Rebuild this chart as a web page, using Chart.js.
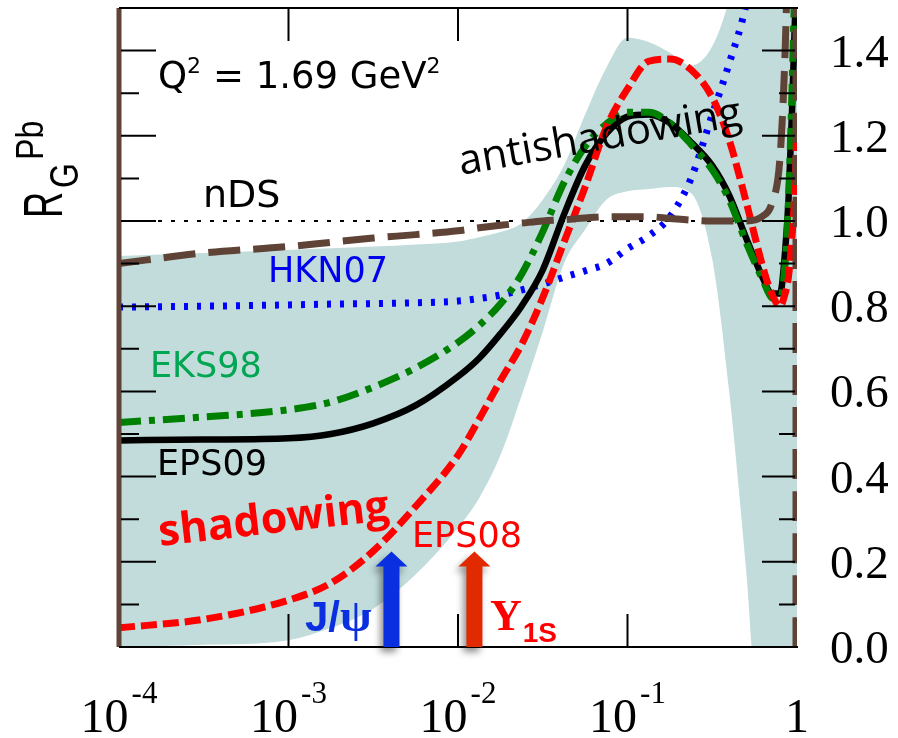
<!DOCTYPE html>
<html>
<head>
<meta charset="utf-8">
<script src="https://cdn.jsdelivr.net/npm/chart.js@4.4.1/dist/chart.umd.min.js"></script>
<style>
  html, body { margin: 0; padding: 0; background: #fff; }
</style>
</head>
<body>
<canvas id="rgChart" width="898" height="738"></canvas>
<script>
// x grid as powers of ten (x = 10^e)
const xExp = [-4, -3.5, -3, -2.75, -2.5, -2.25, -2, -1.875, -1.75, -1.625, -1.5, -1.375, -1.25, -1.125, -1,
  -0.875, -0.75, -0.625, -0.5, -0.4, -0.3, -0.2, -0.15, -0.1, -0.07, -0.05, -0.03, -0.01, 0];

const eps09 = [0.485, 0.487, 0.49, 0.50, 0.525, 0.567, 0.635, 0.678, 0.735, 0.80, 0.885, 1.015, 1.13, 1.205, 1.245,
  1.25, 1.23, 1.185, 1.13, 1.06, 0.96, 0.865, 0.83, 0.83, 0.93, 1.05, 1.25, 1.5, 1.65];
const eks98 = [0.527, 0.54, 0.557, 0.575, 0.61, 0.655, 0.715, 0.755, 0.805, 0.875, 0.975, 1.09, 1.175, 1.228, 1.255,
  1.255, 1.23, 1.18, 1.12, 1.05, 0.95, 0.86, 0.82, 0.815, 0.9, 1.05, 1.3, 1.6, 1.7];
const hkn07 = [0.798, 0.80, 0.803, 0.805, 0.806, 0.808, 0.812, 0.818, 0.826, 0.838, 0.852, 0.868, 0.883, 0.90, 0.935,
  0.965, 1.01, 1.10, 1.25, 1.37, 1.51, 1.75, null, null, null, null, null, null, null];
const eps08 = [0.045, 0.065, 0.11, 0.15, 0.225, 0.33, 0.45, 0.535, 0.625, 0.71, 0.82, 0.95, 1.08, 1.22, 1.31,
  1.375, 1.38, 1.355, 1.29, 1.19, 1.045, 0.89, 0.83, 0.80, 0.83, 0.87, 0.96, 1.1, 1.25];
const nds = [0.90, 0.925, 0.94, 0.95, 0.96, 0.968, 0.977, 0.984, 0.99, 0.995, 1.0, 1.003, 1.007, 1.01, 1.01,
  1.01, 1.006, 1.002, 1.0, 1.0, 1.0, 1.012, 1.04, 1.15, 1.4, 1.7, null, null, null];
// EPS09 uncertainty band
const bandUpper = [0.918, 0.925, 0.932, 0.936, 0.94, 0.945, 0.952, 0.962, 0.974, 0.995, 1.05, 1.13, 1.25, 1.36, 1.43,
  1.42, 1.395, 1.365, 1.41, 1.52, 1.7, 1.8, 1.8, 1.8, 1.8, 1.8, 1.8, 1.8, 1.8];
const bandLower = [0.0, 0.005, 0.016, 0.045, 0.09, 0.17, 0.28, 0.35, 0.45, 0.59, 0.74, 0.90, 0.98, 1.05, 1.07,
  1.075, 1.08, 1.065, 0.91, 0.6, 0.18, -0.3, -0.3, -0.3, -0.3, -0.3, -0.3, -0.3, -0.3];

const unityX = [1e-4, 1];
const unityY = [1, 1];
const edgeY = [0, 1.5];

const xTicks = [1e-4, 1e-3, 1e-2, 1e-1, 1];
const xTickExp = ['-4', '-3', '-2', '-1', ''];
const yTicks = [0, 0.2, 0.4, 0.6, 0.8, 1.0, 1.2, 1.4];
const yMinor = [0.1, 0.3, 0.5, 0.7, 0.9, 1.1, 1.3, 1.5];
const yTickLabels = ['0.0', '0.2', '0.4', '0.6', '0.8', '1.0', '1.2', '1.4'];

// J/psi and Upsilon arrows (x position, tip height)
const arrowX = [0.00405, 0.0125];
const arrowTip = 0.224;
const arrowColors = ['#0a2fe0', '#e22a00'];

const BAND = '#c1dcdb';
const BROWN = '#5e4336';

function series(vals) {
  return xExp.map((e, i) => ({ x: Math.pow(10, e), y: vals[i] }));
}
function pairs(xv, yv) {
  return xv.map((v, i) => ({ x: v, y: yv[i] }));
}

function drawPieces(ctx, x, y, pieces) {
  let cx = x;
  pieces.forEach(p => {
    ctx.font = p.font;
    ctx.fillStyle = p.color || '#000';
    ctx.fillText(p.t, cx, y + (p.dy || 0));
    cx += ctx.measureText(p.t).width + (p.gap || 0);
  });
}

const framePlugin = {
  id: 'frame',
  afterDraw(chart) {
    const { ctx, chartArea: a, scales: { x, y } } = chart;
    ctx.save();

    // frame lines
    ctx.strokeStyle = '#000';
    ctx.lineWidth = 2;
    ctx.beginPath();
    ctx.moveTo(a.left, a.top); ctx.lineTo(a.right + 1, a.top);
    ctx.moveTo(a.left, a.bottom); ctx.lineTo(a.right + 1, a.bottom);
    ctx.stroke();

    // inward ticks
    ctx.beginPath();
    xTicks.forEach(v => {
      const px = x.getPixelForValue(v);
      if (px <= a.left + 1 || px >= a.right - 1) return;
      ctx.moveTo(px, a.top); ctx.lineTo(px, a.top + 33);
      ctx.moveTo(px, a.bottom); ctx.lineTo(px, a.bottom - 33);
    });
    yTicks.forEach(v => {
      const py = y.getPixelForValue(v);
      ctx.moveTo(a.left + 2, py); ctx.lineTo(a.left + 37, py);
      ctx.moveTo(a.right - 2, py); ctx.lineTo(a.right - 35, py);
    });
    yMinor.forEach(v => {
      const py = y.getPixelForValue(v);
      ctx.moveTo(a.left + 2, py); ctx.lineTo(a.left + 20, py);
      ctx.moveTo(a.right - 2, py); ctx.lineTo(a.right - 18, py);
    });
    ctx.stroke();

    // y tick labels on the right
    ctx.fillStyle = '#000';
    ctx.font = '47px "Liberation Serif"';
    ctx.textAlign = 'left';
    ctx.textBaseline = 'alphabetic';
    yTicks.forEach((v, i) => {
      ctx.fillText(yTickLabels[i], a.right + 33, y.getPixelForValue(v) + 16);
    });

    // x tick labels 10^n
    xTicks.forEach((v, i) => {
      const px = x.getPixelForValue(v);
      const base = xTickExp[i] === '' ? '1' : '10';
      ctx.font = '48px "Liberation Serif"';
      const wb = ctx.measureText(base).width;
      ctx.font = '31px "Liberation Serif"';
      const ws = xTickExp[i] === '' ? 0 : ctx.measureText(xTickExp[i]).width + 3;
      const x0 = px - (wb + ws) / 2;
      ctx.font = '48px "Liberation Serif"';
      ctx.fillText(base, x0, 732);
      if (ws) {
        ctx.font = '31px "Liberation Serif"';
        ctx.fillText(xTickExp[i], x0 + wb + 3, 703);
      }
    });

    // y axis title R_G^Pb
    ctx.save();
    ctx.translate(62, 218);
    ctx.rotate(-Math.PI / 2);
    ctx.fillStyle = '#000';
    ctx.save(); ctx.scale(0.65, 1); ctx.font = '56px "Liberation Sans"'; ctx.fillText('R', 0, 0); ctx.restore();
    ctx.save(); ctx.translate(30, 16); ctx.scale(0.8, 1); ctx.font = '40px "Liberation Sans"'; ctx.fillText('G', 0, 0); ctx.restore();
    ctx.save(); ctx.translate(58, -19); ctx.scale(0.85, 1); ctx.font = '38px "Liberation Sans"'; ctx.fillText('Pb', 0, 0); ctx.restore();
    ctx.restore();

    // annotations
    const sans = '"DejaVu Sans"';
    drawPieces(ctx, 158, 88, [
      { t: 'Q', font: '37px ' + sans },
      { t: '2', font: '22px ' + sans, dy: -15 },
      { t: ' = 1.69 GeV', font: '37px ' + sans },
      { t: '2', font: '22px ' + sans, dy: -15 }
    ]);
    ctx.font = '38px ' + sans; ctx.fillStyle = '#000';
    ctx.fillText('nDS', 203, 207);
    ctx.font = '35px ' + sans;
    ctx.fillStyle = '#0000ee';
    ctx.fillText('HKN07', 268, 282);
    ctx.fillStyle = '#00a651';
    ctx.fillText('EKS98', 150, 377);
    ctx.fillStyle = '#000';
    ctx.fillText('EPS09', 157, 475);
    ctx.fillStyle = '#ff0000';
    ctx.fillText('EPS08', 412, 547);

    ctx.save();
    ctx.translate(461, 175);
    ctx.rotate(-10 * Math.PI / 180);
    ctx.font = '42px "Open Sans"'; ctx.fillStyle = '#000';
    ctx.fillText('antishadowing', 0, 0);
    ctx.restore();

    ctx.save();
    ctx.translate(160, 546);
    ctx.rotate(-6.5 * Math.PI / 180);
    ctx.font = 'bold 43px "Open Sans"'; ctx.fillStyle = '#ff0000';
    ctx.fillText('shadowing', 0, 0);
    ctx.restore();

    // arrows with soft shadow
    arrowX.forEach((v, i) => {
      const cx = x.getPixelForValue(v);
      const tip = y.getPixelForValue(arrowTip);
      const base = a.bottom;
      ctx.save();
      ctx.shadowColor = 'rgba(0,0,0,0.45)';
      ctx.shadowBlur = 7;
      ctx.shadowOffsetX = -3;
      ctx.shadowOffsetY = 5;
      ctx.fillStyle = arrowColors[i];
      ctx.beginPath();
      ctx.moveTo(cx - 8, base);
      ctx.lineTo(cx - 8, tip + 15);
      ctx.lineTo(cx - 16, tip + 15);
      ctx.lineTo(cx, tip);
      ctx.lineTo(cx + 16, tip + 15);
      ctx.lineTo(cx + 8, tip + 15);
      ctx.lineTo(cx + 8, base);
      ctx.closePath();
      ctx.fill();
      ctx.restore();
    });

    drawPieces(ctx, 305, 631, [
      { t: 'J/', font: 'bold 42px "Liberation Sans"', color: '#0a2fe0' },
      { t: 'ψ', font: 'bold 46px "Liberation Serif"', color: '#0a2fe0' }
    ]);
    drawPieces(ctx, 490, 630, [
      { t: 'Y', font: 'bold 44px "Liberation Serif"', color: '#ff0000', gap: 1 },
      { t: '1S', font: 'bold 28px "Liberation Sans"', color: '#ff0000', dy: 12 }
    ]);

    ctx.restore();
  }
};

const lineBase = { pointRadius: 0, fill: false, clip: 0, cubicInterpolationMode: 'monotone' };

new Chart(document.getElementById('rgChart').getContext('2d'), {
  type: 'line',
  data: {
    datasets: [
      { ...lineBase, label: 'band upper', data: series(bandUpper), borderWidth: 0, borderColor: BAND,
        backgroundColor: BAND, fill: '+1', order: 10 },
      { ...lineBase, label: 'band lower', data: series(bandLower), borderWidth: 0, borderColor: BAND, order: 10 },
      { ...lineBase, label: 'unity', data: pairs(unityX, unityY), borderColor: '#000', borderWidth: 2,
        borderDash: [4, 9], order: 9 },
      { ...lineBase, label: 'HKN07', data: series(hkn07), borderColor: '#0000ff', borderWidth: 7,
        borderDash: [4, 9], order: 5 },
      { ...lineBase, label: 'EPS09', data: series(eps09), borderColor: '#000', borderWidth: 6.5, order: 4 },
      { ...lineBase, label: 'EKS98', data: series(eks98), borderColor: '#008000', borderWidth: 7,
        borderDash: [22, 8, 6, 8], order: 3 },
      { ...lineBase, label: 'EPS08', data: series(eps08), borderColor: '#ff0000', borderWidth: 7,
        borderDash: [16, 6], order: 2 },
      { ...lineBase, label: 'nDS', data: series(nds), borderColor: BROWN, borderWidth: 7,
        borderDash: [32, 13], order: 1 },
      { ...lineBase, label: 'edge left', data: pairs([1e-4, 1e-4], edgeY), borderColor: BROWN, borderWidth: 5,
        clip: { left: 3, right: 0, top: 0, bottom: 0 }, order: 0 },
      { ...lineBase, label: 'edge right', data: pairs([1, 1], edgeY), borderColor: BROWN, borderWidth: 9,
        borderDash: [30, 12], order: 0 }
    ]
  },
  options: {
    responsive: false,
    animation: false,
    devicePixelRatio: 1,
    layout: { padding: { left: 119, right: 101, top: 8, bottom: 91 } },
    plugins: { legend: { display: false }, tooltip: { enabled: false } },
    scales: {
      x: { type: 'logarithmic', min: 1e-4, max: 1, display: false },
      y: { type: 'linear', min: 0, max: 1.5, display: false }
    }
  },
  plugins: [framePlugin]
});
</script>
</body>
</html>
